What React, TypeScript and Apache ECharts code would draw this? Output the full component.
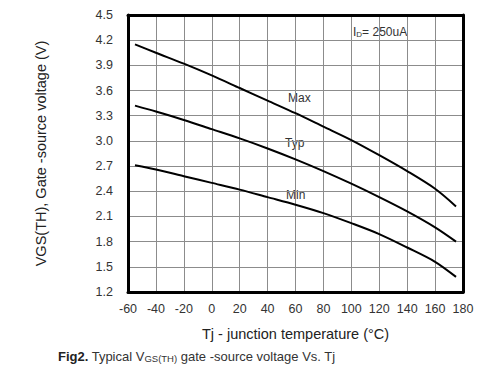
import React, { useEffect, useRef } from "react";
import * as echarts from "echarts";

const temps = [-55, -40, -20, 0, 20, 40, 60, 80, 100, 120, 140, 160, 175];
const maxV = [4.15, 4.05, 3.92, 3.78, 3.63, 3.48, 3.33, 3.17, 3.01, 2.83, 2.64, 2.43, 2.22];
const typV = [3.42, 3.35, 3.25, 3.14, 3.03, 2.91, 2.78, 2.64, 2.49, 2.33, 2.16, 1.97, 1.8];
const minV = [2.71, 2.66, 2.58, 2.5, 2.42, 2.33, 2.24, 2.14, 2.02, 1.89, 1.73, 1.56, 1.38];
const seriesNames = ["Max", "Typ", "Min"];

const pair = (ys: number[]) => temps.map((t, i) => [t, ys[i]]);

export default function App() {
  const ref = useRef<HTMLDivElement>(null);
  useEffect(() => {
    document.body.style.margin = "0";
    if (!ref.current) return;
    const chart = echarts.init(ref.current, undefined, { renderer: "svg" });
    const font = "Liberation Sans, Arial, sans-serif";
    const lineSeries = [maxV, typV, minV].map((ys, i) => ({
      name: seriesNames[i],
      type: "line",
      xAxisIndex: 0,
      yAxisIndex: 0,
      data: pair(ys),
      smooth: 0.3,
      symbol: "none",
      z: 5,
      lineStyle: { color: "#000", width: 2 },
    }));
    const frame = { show: true, onZero: false, lineStyle: { color: "#000", width: 3 } };
    const split = { show: true, lineStyle: { color: "#8c8c8c", width: 1, opacity: 1 } };
    chart.setOption({
      animation: false,
      backgroundColor: "#fff",
      textStyle: { fontFamily: font },
      grid: { left: 128, top: 15, right: 37, bottom: 83 },
      xAxis: [
        {
          type: "value",
          min: -60,
          max: 180,
          interval: 20,
          name: "Tj - junction temperature (°C)",
          nameLocation: "middle",
          nameGap: 34,
          nameTextStyle: { fontSize: 14.5, color: "#222", fontFamily: font },
          axisLine: frame,
          axisTick: { show: false },
          axisLabel: { fontSize: 12.5, color: "#333", margin: 10, fontFamily: font },
          splitLine: split,
        },
        {
          type: "value",
          position: "top",
          min: -60,
          max: 180,
          interval: 20,
          axisLine: frame,
          axisTick: { show: false },
          axisLabel: { show: false },
          splitLine: { show: false },
        },
      ],
      yAxis: [
        {
          type: "value",
          min: 1.2,
          max: 4.5,
          interval: 0.3,
          name: "VGS(TH), Gate -source voltage (V)",
          nameLocation: "middle",
          nameGap: 80,
          nameTextStyle: { fontSize: 14.5, color: "#222", fontFamily: font },
          axisLine: frame,
          axisTick: { show: false },
          axisLabel: {
            fontSize: 12.5,
            color: "#333",
            margin: 15,
            fontFamily: font,
            formatter: (v: number) => v.toFixed(1),
          },
          splitLine: split,
        },
        {
          type: "value",
          position: "right",
          min: 1.2,
          max: 4.5,
          interval: 0.3,
          axisLine: frame,
          axisTick: { show: false },
          axisLabel: { show: false },
          splitLine: { show: false },
        },
      ],
      series: lineSeries,
      graphic: [
        { type: "text", x: 288, y: 92, style: { text: "Max", fontSize: 12, fill: "#333", fontFamily: font } },
        { type: "text", x: 285, y: 137, style: { text: "Typ", fontSize: 12, fill: "#333", fontFamily: font } },
        { type: "text", x: 286, y: 189, style: { text: "Min", fontSize: 12, fill: "#333", fontFamily: font } },
        {
          type: "text",
          x: 353,
          y: 26,
          style: {
            text: "{a|I}{b|D}{a|= 250uA}",
            fill: "#333",
            fontFamily: font,
            rich: {
              a: { fontSize: 12, fill: "#333", fontFamily: font },
              b: { fontSize: 8, fill: "#333", fontFamily: font, verticalAlign: "bottom" },
            },
          },
        },
        {
          type: "text",
          x: 58,
          y: 350,
          style: {
            text: "{b|Fig2.} {a|Typical V}{s|GS(TH)}{a| gate -source voltage Vs. Tj}",
            fontFamily: font,
            rich: {
              b: { fontSize: 13, fontWeight: "bold", fill: "#222", fontFamily: font },
              a: { fontSize: 13, fill: "#333", fontFamily: font },
              s: { fontSize: 9.5, fill: "#333", fontFamily: font, verticalAlign: "bottom" },
            },
          },
        },
      ],
    });
    return () => chart.dispose();
  }, []);
  return <div ref={ref} style={{ width: 500, height: 375 }} />;
}
